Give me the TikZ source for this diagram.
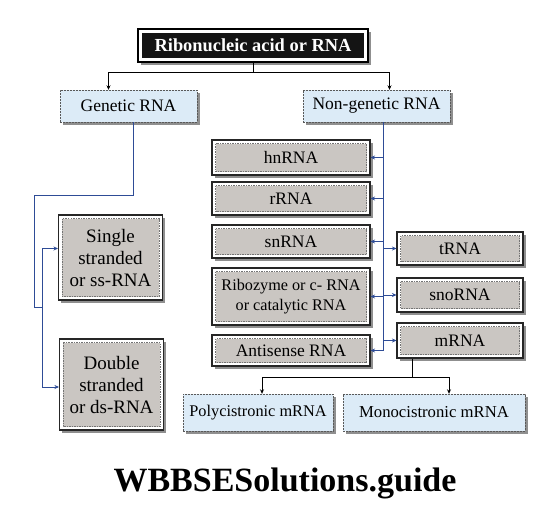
\documentclass[tikz,border=0pt]{standalone}
\usepackage{fontspec}
\setmainfont{Liberation Serif}
\usepackage{tikz}
\usetikzlibrary{shadows,arrows.meta,calc}
\definecolor{linkblue}{HTML}{2E4C96}
\definecolor{paleblue}{HTML}{DCEBF7}
\definecolor{boxgray}{HTML}{CAC6C2}

\begin{document}
\begin{tikzpicture}[x=1pt, y=-1pt, >={Stealth[length=4.5pt,width=4pt]}]
  \tikzset{
    shade/.style={drop shadow={shadow xshift=2.5pt, shadow yshift=-2.5pt, fill=black!55, opacity=0.8}},
    bluebox/.style={shade, draw=black!65, dash pattern=on 2pt off 1pt, fill=paleblue,
      inner sep=0pt, font=\fontsize{17.5}{19}\selectfont},
    graybox/.style={shade, draw=black!85, line width=1.1pt, fill=white, inner sep=0pt,
      align=center, font=\fontsize{17.5}{19}\selectfont,
      path picture={\draw[draw=black!55, line width=0.5pt, dash pattern=on 1.5pt off 1pt, fill=boxgray]
        ([shift={(3.5pt,-3.5pt)}]path picture bounding box.north west) rectangle
        ([shift={(-3.5pt,3.5pt)}]path picture bounding box.south east);}},
    titlebox/.style={shade, draw=black, line width=1.1pt, fill=white, inner sep=0pt,
      text=white, font=\bfseries\fontsize{18.4}{20}\selectfont,
      path picture={\fill[black!92]
        ([shift={(4pt,-4pt)}]path picture bounding box.north west) rectangle
        ([shift={(-4pt,4pt)}]path picture bounding box.south east);}},
    link/.style={linkblue, line width=0.6pt},
    plain/.style={black, line width=0.7pt}
  }
  \useasboundingbox (0,0) rectangle (551,523);

  % top level
  \node[titlebox, minimum width=230pt, minimum height=33pt] (rna) at (253,45.5) {Ribonucleic acid or RNA};
  \node[bluebox, minimum width=137pt, minimum height=32pt] (genetic) at (128.5,106) {Genetic RNA};
  \node[bluebox, minimum width=147pt, minimum height=32pt] (nongen) at (376.5,106) {Non-genetic RNA};

  % genetic RNA
  \node[graybox, minimum width=104pt, minimum height=85pt, font=\fontsize{19}{22}\selectfont] (single) at (110.5,257.5) {Single\\stranded\\or ss-RNA};
  \node[graybox, minimum width=104pt, minimum height=91pt, font=\fontsize{19}{22}\selectfont] (double) at (111.5,384.5) {Double\\stranded\\or ds-RNA};

  % non-genetic RNA, left column
  \node[graybox, minimum width=158pt, minimum height=35pt] (hn) at (291,157.5) {hnRNA};
  \node[graybox, minimum width=158pt, minimum height=33pt] (rr) at (291,198.5) {rRNA};
  \node[graybox, minimum width=158pt, minimum height=33pt] (sn) at (291,241.5) {snRNA};
  \node[graybox, minimum width=158pt, minimum height=57pt, font=\fontsize{16.2}{20}\selectfont] (ribo) at (291,296.5) {Ribozyme or c- RNA\\or catalytic RNA};
  \node[graybox, minimum width=158pt, minimum height=31pt] (anti) at (291,350.5) {Antisense RNA};

  % non-genetic RNA, right column
  \node[graybox, minimum width=126pt, minimum height=33pt] (trna) at (460,248.5) {tRNA};
  \node[graybox, minimum width=126pt, minimum height=34pt] (sno) at (460,295) {snoRNA};
  \node[graybox, minimum width=126pt, minimum height=35pt] (mrna) at (460,340.5) {mRNA};

  % mRNA types
  \node[bluebox, minimum width=150pt, minimum height=37pt, font=\fontsize{16.3}{18}\selectfont] (poly) at (258,412.5) {Polycistronic mRNA};
  \node[bluebox, minimum width=182pt, minimum height=37pt, font=\fontsize{16.7}{18}\selectfont] (mono) at (434,412.5) {Monocistronic mRNA};

  \node[font=\bfseries\fontsize{34}{38}\selectfont] (site) at (285,483) {WBBSESolutions.guide};

  % connectors
  \coordinate (tj) at (253,72);
  \draw[plain] (rna.south) -- (tj);
  \draw[plain, ->] (tj) -| ([xshift=-20pt]genetic.north);
  \draw[plain, ->] (tj) -| ([xshift=13pt]nongen.north);

  \coordinate (gb) at (42,307);
  \draw[link] ([xshift=4.5pt]genetic.south) |- (34,195) |- (gb);
  \draw[link, ->] (gb) |- ([yshift=9pt]single.west);
  \draw[link, ->] (gb) |- ([yshift=-2.5pt]double.west);

  \coordinate (nl) at (383,130);
  \draw[link] ([xshift=6.5pt]nongen.south) -- (anti.east -| nl);
  \foreach \n in {hn,rr,sn,ribo,anti}
    \draw[link, ->] (\n.east -| nl) -- (\n.east);
  \foreach \n in {trna,sno,mrna}
    \draw[link, ->] (\n.west -| nl) -- (\n.west);

  \coordinate (mj) at (412,377);
  \draw[plain] ([xshift=-48pt]mrna.south) -- (mj);
  \draw[plain, ->] (mj) -| ([xshift=4pt]poly.north);
  \draw[plain, ->] (mj) -| ([xshift=15pt]mono.north);
\end{tikzpicture}
\end{document}
